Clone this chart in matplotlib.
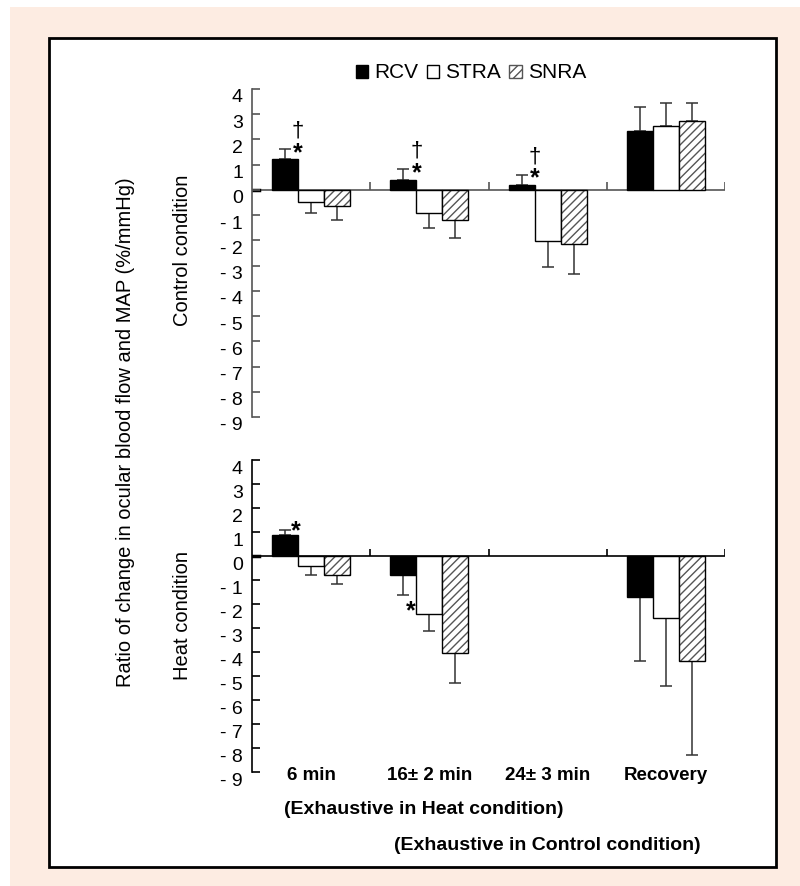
import numpy as np
import matplotlib
matplotlib.use("Agg")
import matplotlib.pyplot as plt
import matplotlib.transforms as mtransforms
from matplotlib.patches import Rectangle, Patch

plt.rcParams["font.family"] = ["Liberation Sans", "DejaVu Sans"]
plt.rcParams["hatch.linewidth"] = 1.0

# 데이터
groups = ["6 min", "16\u00b1 2 min", "24\u00b1 3 min", "Recovery"]
series = ["RCV", "STRA", "SNRA"]

control_rcv = [1.24, 0.40, 0.21, 2.32]
control_stra = [-0.49, -0.92, -2.01, 2.52]
control_snra = [-0.62, -1.21, -2.14, 2.73]
control_rcv_sd = [0.37, 0.42, 0.39, 0.98]
control_stra_sd = [0.43, 0.60, 1.05, 0.94]
control_snra_sd = [0.57, 0.70, 1.20, 0.73]

heat_rcv = [0.875, -0.80, np.nan, -1.72]
heat_stra = [-0.40, -2.40, np.nan, -2.58]
heat_snra = [-0.80, -4.05, np.nan, -4.39]
heat_rcv_sd = [0.21, 0.82, np.nan, 2.67]
heat_stra_sd = [0.39, 0.71, np.nan, 2.82]
heat_snra_sd = [0.38, 1.25, np.nan, 3.90]

yticks = list(range(4, -10, -1))
ytick_labels = [str(v) if v >= 0 else "- %d" % -v for v in yticks]

W, H = 800, 886
fig = plt.figure(figsize=(W / 100, H / 100), dpi=100)
fig.patch.set_facecolor("white")

# 배경 + 테두리 박스
fig.add_artist(Rectangle((10 / W, 0), 790 / W, 1 - 7 / H, transform=fig.transFigure,
                         facecolor="#fdece2", edgecolor="none", zorder=-10))
fig.add_artist(Rectangle((49 / W, 1 - 867 / H), 727 / W, 829 / H, transform=fig.transFigure,
                         facecolor="white", edgecolor="black", linewidth=2, zorder=-9))

bar_w = 0.22
offsets = [-bar_w, 0, bar_w]
centers = np.arange(len(groups)) + 0.5


def draw_panel(ax, vals, sds, line_color):
    ax.set_xlim(0, 4)
    ax.set_ylim(-9, 4)
    ax.patch.set_alpha(0)
    for s in ["top", "right", "bottom"]:
        ax.spines[s].set_visible(False)
    ax.spines["left"].set_bounds(-9, 4)
    ax.spines["left"].set_color(line_color)
    ax.spines["left"].set_linewidth(1.2)
    ax.set_xticks([])
    ax.set_yticks(yticks)
    ax.set_yticklabels(ytick_labels, fontsize=14)
    ax.tick_params(axis="y", direction="in", length=6, width=1.2, color=line_color, pad=6.5)
    offset = mtransforms.ScaledTranslation(0, -7 / 100, fig.dpi_scale_trans)
    for lab in ax.get_yticklabels():
        lab.set_transform(lab.get_transform() + offset)

    # x 축 (0 위치)
    ax.plot([0, 4], [0, 0], color=line_color, lw=1.2, zorder=1)
    ax.plot([0, 0.06], [0, 0], color="black", lw=2.5, zorder=1)
    ax.vlines([1, 2, 3, 4], 0, 0.3, color=line_color, lw=1.2)

    for i in range(3):
        v = np.array(vals[i], dtype=float)
        sd = np.array(sds[i], dtype=float)
        x = centers + offsets[i]
        ok = ~np.isnan(v)
        lower = np.where(v < 0, sd, 0)
        upper = np.where(v >= 0, sd, 0)
        ax.errorbar(x[ok], v[ok], yerr=[lower[ok], upper[ok]], fmt="none",
                    ecolor="#333333", elinewidth=1.1, capsize=4, capthick=1.1, zorder=2)
        if i == 0:
            ax.bar(x[ok], v[ok], bar_w, color="black", edgecolor="black", lw=1, zorder=3)
        elif i == 1:
            ax.bar(x[ok], v[ok], bar_w, color="white", edgecolor="black", lw=1, zorder=3)
        else:
            ax.bar(x[ok], v[ok], bar_w, color="white", edgecolor="#555555", lw=0,
                   hatch="////", zorder=3)
            ax.bar(x[ok], v[ok], bar_w, fill=False, edgecolor="black", lw=1, zorder=4)


ax1 = fig.add_axes([252 / W, 1 - 417 / H, 473 / W, 328 / H])
ax2 = fig.add_axes([252 / W, 1 - 772 / H, 473 / W, 312 / H])

draw_panel(ax1, [control_rcv, control_stra, control_snra],
           [control_rcv_sd, control_stra_sd, control_snra_sd], "#555555")
draw_panel(ax2, [heat_rcv, heat_stra, heat_snra],
           [heat_rcv_sd, heat_stra_sd, heat_snra_sd], "black")

# 유의 표시
for g in range(3):
    xr = centers[g] + offsets[0] + bar_w / 2
    top = control_rcv[g] + control_rcv_sd[g]
    ax1.text(xr, top - 0.15, "*", fontsize=18, ha="center", va="center", fontweight="bold")
    ax1.text(xr, top + 0.72, "\u2020", fontsize=16, ha="center", va="center")

xr = centers[0] + offsets[0] + bar_w / 2 - 0.02
ax2.text(xr, heat_rcv[0] + heat_rcv_sd[0] - 0.05, "*", fontsize=18, ha="center", va="center",
         fontweight="bold")
xl = centers[1] - bar_w / 2 - 0.05
ax2.text(xl, heat_stra[1] + 0.1, "*", fontsize=18, ha="center", va="center", fontweight="bold")

# x 라벨
tr = mtransforms.blended_transform_factory(ax2.transData, fig.transFigure)
for c, g in zip(centers, groups):
    ax2.text(c, 1 - 776 / H, g, transform=tr, ha="center", va="center",
             fontsize=13.5, fontweight="bold")
fig.text(424 / W, 1 - 809 / H, "(Exhaustive in Heat condition)", ha="center", va="center",
         fontsize=14, fontweight="bold")
fig.text(547 / W, 1 - 845 / H, "(Exhaustive in Control condition)", ha="center", va="center",
         fontsize=14, fontweight="bold")

# y 라벨
fig.text(126 / W, 1 - 432 / H, "Ratio of change in ocular blood flow and MAP (%/mmHg)",
         rotation=90, ha="center", va="center", fontsize=14.5)
fig.text(183 / W, 1 - 250 / H, "Control condition", rotation=90, ha="center", va="center",
         fontsize=14.5)
fig.text(183 / W, 1 - 615 / H, "Heat condition", rotation=90, ha="center", va="center",
         fontsize=14.5)

# 범례
handles = [Patch(facecolor="black", edgecolor="black"),
           Patch(facecolor="white", edgecolor="black"),
           Patch(facecolor="white", edgecolor="#555555", hatch="////")]
fig.legend(handles, series, loc="center", bbox_to_anchor=(471 / W, 1 - 73 / H), ncol=3,
           frameon=False, fontsize=15, handlelength=0.6, handleheight=0.6,
           handletextpad=0.3, columnspacing=0.4)

fig.savefig("out.png", dpi=100)
